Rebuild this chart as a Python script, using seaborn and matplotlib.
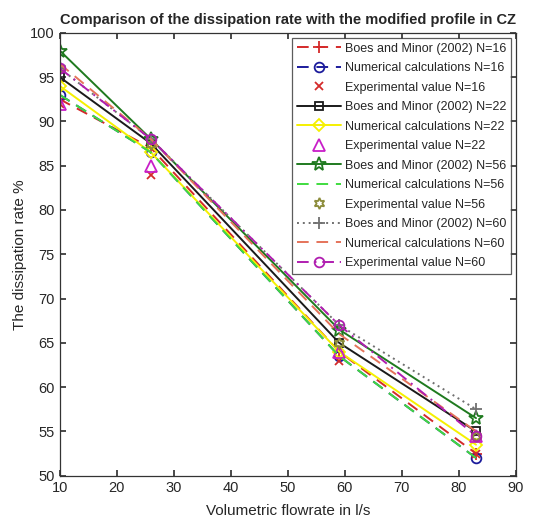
import matplotlib
matplotlib.use("Agg")
import matplotlib.pyplot as plt
import seaborn as sns
import pandas as pd

flow = [10, 26, 59, 83]

boes16 = [92.5, 87.0, 64.0, 52.5]
num16 = [93.0, 86.5, 63.5, 52.0]
exp16 = [92.0, 84.0, 63.0, 52.5]
boes22 = [95.0, 87.5, 65.0, 55.0]
num22 = [94.0, 86.5, 64.0, 53.5]
exp22 = [92.0, 85.0, 64.0, 54.5]
boes56 = [98.0, 88.0, 66.5, 56.5]
num56 = [93.0, 86.5, 63.5, 52.0]
exp56 = [96.0, 87.5, 65.0, 54.5]
boes60 = [96.0, 88.0, 67.0, 57.5]
num60 = [96.5, 88.0, 66.0, 55.0]
exp60 = [96.0, 88.0, 67.0, 54.5]

labels = [
    "Boes and Minor (2002) N=16", "Numerical calculations N=16", "Experimental value N=16",
    "Boes and Minor (2002) N=22", "Numerical calculations N=22", "Experimental value N=22",
    "Boes and Minor (2002) N=56", "Numerical calculations N=56", "Experimental value N=56",
    "Boes and Minor (2002) N=60", "Numerical calculations N=60", "Experimental value N=60",
]
series = [boes16, num16, exp16, boes22, num22, exp22, boes56, num56, exp56, boes60, num60, exp60]

styles = [
    dict(color="#d42a2a", ls=(0, (6, 4)), marker="+", ms=9),
    dict(color="#1c1c9c", ls=(0, (6, 4)), marker="o", ms=7),
    dict(color="#d42a2a", ls="none", marker="x", ms=6),
    dict(color="#1a1a1a", ls="-", marker="s", ms=6),
    dict(color="#f5f000", ls="-", marker="D", ms=6),
    dict(color="#c81ec8", ls="none", marker="^", ms=8),
    dict(color="#1f7a1f", ls="-", marker="*", ms=10),
    dict(color="#3fdc3f", ls=(0, (6, 4)), marker="", ms=0),
    dict(color="#8c8c3a", ls="none", marker=(6, 1, 0), ms=8),
    dict(color="#707070", ls=(0, (1, 2)), marker="+", ms=9),
    dict(color="#e5735a", ls=(0, (6, 4)), marker="", ms=0),
    dict(color="#b01eb0", ls=(0, (6, 3, 1, 3)), marker="o", ms=7),
]

sns.set_theme(style="ticks")
plt.rcParams["font.family"] = ["Liberation Sans", "DejaVu Sans"]

fig = plt.figure(figsize=(5.33, 5.21), dpi=100)
ax = fig.add_axes([0.112, 0.087, 0.856, 0.85])

for lab, vals, st in zip(labels, series, styles):
    df = pd.DataFrame({"flow": flow, "rate": vals})
    sns.lineplot(data=df, x="flow", y="rate", ax=ax, color=st["color"],
                 linestyle=st["ls"], marker=st["marker"] if st["marker"] else None,
                 markersize=st["ms"], markerfacecolor="none",
                 markeredgecolor=st["color"], markeredgewidth=1.3,
                 linewidth=1.4, label=lab, sort=False)

ax.set_xlim(10, 90)
ax.set_ylim(50, 100)
ax.set_xticks(range(10, 91, 10))
ax.set_yticks(range(50, 101, 5))
ax.tick_params(direction="in", top=True, right=True, labelsize=10.5, length=4, color="#333333")
for s in ax.spines.values():
    s.set_visible(True)
    s.set_color("#333333")
    s.set_linewidth(0.9)

ax.set_xlabel("Volumetric flowrate in l/s", fontsize=11, labelpad=7)
ax.set_ylabel("The dissipation rate %", fontsize=11, labelpad=2)
ax.set_title("Comparison of the dissipation rate with the modified profile in CZ",
             fontsize=10.5, fontweight="bold", pad=6)

leg = ax.legend(loc="upper right", fontsize=9, handlelength=3.5, labelspacing=0.6,
                borderaxespad=0.4, frameon=True, fancybox=False, edgecolor="#333333",
                borderpad=0.4, handletextpad=0.3)
leg.get_frame().set_linewidth(0.9)

fig.savefig("out.png", dpi=100)
